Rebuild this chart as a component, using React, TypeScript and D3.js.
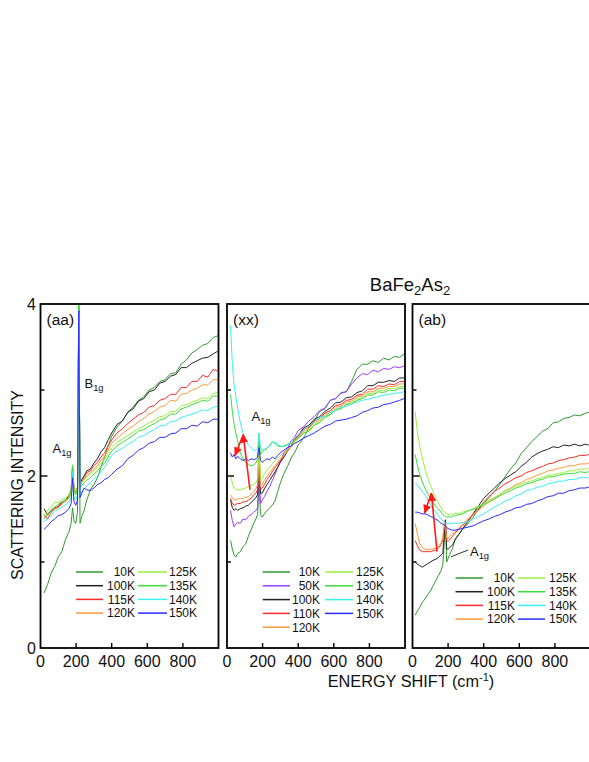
import React from "react";
import * as d3 from "d3";

// ---------- data: panel (aa) ----------
const X_AA = [20,40,60,80,100,120,140,160,172,180,188,198,208,215,222,232,245,260,280,300,320,340,360,380,400,430,460,490,520,550,580,610,640,670,700,730,760,790,820,850,880,910,940,970,995];
const AA_10K = [0.64,0.74,0.87,0.95,1.06,1.12,1.26,1.35,1.45,1.63,1.48,1.45,1.58,4.1,1.45,1.53,1.6,1.72,1.84,1.9,1.98,2.1,2.22,2.35,2.46,2.57,2.64,2.74,2.8,2.88,2.92,3.0,3.03,3.1,3.12,3.19,3.2,3.3,3.35,3.43,3.47,3.52,3.54,3.61,3.63];
const AA_100K = [1.62,1.55,1.6,1.63,1.64,1.7,1.71,1.78,1.84,2.1,1.86,1.82,1.87,3.95,1.9,1.96,2.0,2.06,2.08,2.15,2.2,2.28,2.33,2.42,2.5,2.6,2.64,2.74,2.78,2.87,2.9,2.98,3.0,3.08,3.1,3.16,3.18,3.26,3.26,3.31,3.34,3.37,3.38,3.42,3.45];
const AA_115K = [1.55,1.5,1.58,1.62,1.65,1.68,1.72,1.75,1.82,2.1,1.85,1.8,1.86,3.9,1.88,1.94,1.98,2.04,2.06,2.12,2.16,2.22,2.27,2.35,2.42,2.5,2.55,2.61,2.66,2.71,2.74,2.8,2.82,2.88,2.9,2.95,2.95,3.03,3.03,3.1,3.1,3.17,3.15,3.24,3.22];
const AA_120K = [1.52,1.54,1.57,1.62,1.63,1.67,1.71,1.74,1.8,2.08,1.84,1.8,1.85,3.9,1.86,1.92,1.96,2.0,2.04,2.08,2.12,2.18,2.23,2.3,2.38,2.44,2.49,2.54,2.58,2.63,2.67,2.72,2.75,2.8,2.82,2.88,2.87,2.95,2.96,3.0,3.02,3.06,3.06,3.12,3.12];
const AA_125K = [1.55,1.6,1.64,1.7,1.69,1.73,1.74,1.78,1.84,2.12,1.85,1.82,1.86,3.95,1.88,1.93,1.96,1.99,2.02,2.06,2.1,2.15,2.19,2.26,2.33,2.39,2.43,2.47,2.51,2.55,2.58,2.62,2.65,2.69,2.7,2.75,2.75,2.82,2.83,2.86,2.88,2.91,2.9,2.96,2.97];
const AA_135K = [1.5,1.56,1.6,1.64,1.67,1.7,1.72,1.76,1.82,2.13,1.8,1.78,1.84,4.2,1.85,1.89,1.92,1.95,1.98,2.02,2.06,2.11,2.15,2.22,2.29,2.35,2.39,2.43,2.47,2.52,2.54,2.58,2.61,2.65,2.67,2.72,2.72,2.78,2.8,2.83,2.85,2.88,2.87,2.93,2.93];
const AA_140K = [1.47,1.5,1.54,1.6,1.61,1.64,1.66,1.7,1.75,2.05,1.75,1.72,1.78,3.9,1.78,1.82,1.85,1.88,1.92,1.96,2.0,2.05,2.1,2.17,2.24,2.29,2.32,2.37,2.4,2.45,2.47,2.51,2.54,2.58,2.59,2.63,2.64,2.68,2.7,2.72,2.74,2.77,2.76,2.8,2.81];
const AA_150K = [1.38,1.42,1.47,1.5,1.54,1.55,1.58,1.62,1.68,1.98,1.7,1.66,1.72,3.92,1.75,1.8,1.86,1.84,1.83,1.86,1.9,1.92,1.96,1.98,2.02,2.08,2.12,2.2,2.24,2.3,2.33,2.38,2.4,2.45,2.45,2.49,2.5,2.55,2.55,2.59,2.58,2.63,2.62,2.66,2.66];

// ---------- data: panel (xx) ----------
const X_XX = [20,30,40,50,60,75,90,105,120,135,150,162,172,180,188,198,210,225,240,255,270,285,300,320,340,360,380,400,430,460,490,520,550,580,610,640,670,700,730,760,790,820,850,880,910,940,970,995];
const XX_10K = [1.25,1.15,1.08,1.06,1.1,1.12,1.18,1.21,1.3,1.37,1.45,1.5,1.55,1.95,1.55,1.52,1.56,1.6,1.63,1.66,1.71,1.82,1.92,2.03,2.11,2.21,2.27,2.36,2.44,2.56,2.64,2.75,2.78,2.88,2.9,2.97,2.98,3.1,3.24,3.3,3.3,3.34,3.32,3.37,3.35,3.39,3.38,3.42];
const XX_50K = [1.6,1.48,1.41,1.44,1.46,1.45,1.5,1.49,1.53,1.55,1.58,1.6,1.63,2.1,1.68,1.72,1.76,1.82,1.88,1.95,2.02,2.1,2.17,2.27,2.32,2.41,2.45,2.53,2.57,2.64,2.69,2.76,2.79,2.88,2.9,2.96,2.98,3.07,3.14,3.19,3.18,3.23,3.21,3.25,3.24,3.27,3.26,3.28];
const XX_100K = [1.72,1.63,1.6,1.62,1.6,1.62,1.63,1.65,1.66,1.69,1.72,1.75,1.78,2.3,1.8,1.8,1.85,1.9,1.95,2.0,2.05,2.1,2.16,2.22,2.29,2.34,2.43,2.47,2.56,2.59,2.66,2.69,2.75,2.79,2.85,2.86,2.91,2.92,2.97,2.99,3.05,3.05,3.09,3.09,3.11,3.1,3.14,3.14];
const XX_110K = [1.74,1.68,1.66,1.67,1.68,1.68,1.7,1.7,1.72,1.74,1.78,1.8,1.84,2.3,1.84,1.86,1.9,1.96,2.0,2.05,2.1,2.14,2.18,2.24,2.3,2.35,2.43,2.46,2.54,2.57,2.64,2.67,2.73,2.76,2.82,2.83,2.88,2.89,2.94,2.95,3.01,3.01,3.05,3.04,3.07,3.06,3.1,3.1];
const XX_120K = [1.78,1.75,1.72,1.72,1.73,1.74,1.74,1.75,1.76,1.78,1.82,1.85,1.9,2.3,1.88,1.9,1.95,2.0,2.04,2.08,2.12,2.16,2.2,2.24,2.29,2.34,2.41,2.44,2.52,2.55,2.62,2.65,2.71,2.74,2.8,2.81,2.86,2.87,2.92,2.93,2.98,2.98,3.02,3.02,3.04,3.04,3.07,3.07];
const XX_125K = [2.0,1.92,1.86,1.84,1.84,1.84,1.85,1.86,1.88,1.89,1.9,1.92,1.96,2.5,1.95,1.97,2.02,2.07,2.1,2.14,2.18,2.2,2.24,2.28,2.31,2.35,2.4,2.43,2.5,2.53,2.6,2.63,2.69,2.72,2.78,2.79,2.84,2.85,2.9,2.91,2.96,2.96,3.0,2.99,3.02,3.01,3.04,3.04];
const XX_130K = [2.95,2.75,2.6,2.5,2.4,2.27,2.2,2.16,2.13,2.12,2.13,2.15,2.2,2.45,2.25,2.28,2.3,2.32,2.36,2.4,2.38,2.35,2.34,2.35,2.37,2.38,2.42,2.44,2.5,2.52,2.59,2.62,2.68,2.71,2.77,2.78,2.83,2.84,2.88,2.9,2.94,2.94,2.98,2.97,3.0,2.99,3.02,3.02];
const XX_140K = [3.75,3.3,3.05,2.92,2.78,2.62,2.5,2.42,2.36,2.33,2.3,2.3,2.32,2.5,2.33,2.3,2.31,2.33,2.35,2.38,2.4,2.36,2.35,2.34,2.36,2.4,2.44,2.48,2.53,2.58,2.63,2.68,2.69,2.74,2.76,2.8,2.81,2.84,2.86,2.88,2.89,2.91,2.92,2.94,2.95,2.96,2.97,2.98];
const XX_150K = [2.27,2.22,2.25,2.2,2.23,2.2,2.18,2.2,2.18,2.2,2.19,2.2,2.22,2.33,2.18,2.16,2.18,2.2,2.19,2.22,2.2,2.24,2.27,2.3,2.33,2.35,2.38,2.4,2.44,2.47,2.5,2.54,2.58,2.6,2.64,2.65,2.66,2.68,2.7,2.74,2.76,2.79,2.8,2.83,2.84,2.86,2.88,2.9];

// ---------- data: panel (ab) ----------
const X_AB = [15,25,40,55,70,85,100,115,130,145,160,170,178,185,192,200,210,225,240,260,280,300,320,340,360,380,400,430,460,490,520,550,580,610,640,670,700,730,760,790,820,850,880,910,940,970,990];
const AB_10K = [0.38,0.42,0.47,0.53,0.57,0.62,0.66,0.72,0.78,0.84,0.9,0.96,1.2,1.49,1.0,1.04,1.09,1.16,1.27,1.32,1.38,1.42,1.47,1.52,1.58,1.63,1.68,1.75,1.82,1.9,1.99,2.08,2.15,2.26,2.33,2.4,2.46,2.52,2.55,2.62,2.63,2.67,2.68,2.71,2.7,2.73,2.74];
const AB_100K = [1.0,0.98,0.96,0.94,0.96,0.98,1.0,1.02,1.03,1.05,1.08,1.1,1.3,1.49,1.15,1.15,1.17,1.2,1.26,1.32,1.38,1.44,1.5,1.56,1.62,1.68,1.74,1.8,1.86,1.92,1.97,2.01,2.05,2.11,2.16,2.22,2.26,2.29,2.31,2.34,2.33,2.36,2.35,2.37,2.35,2.37,2.36];
const AB_115K = [1.25,1.2,1.14,1.12,1.12,1.12,1.12,1.13,1.14,1.16,1.2,1.25,1.4,1.45,1.25,1.24,1.26,1.3,1.34,1.38,1.42,1.46,1.5,1.55,1.6,1.64,1.7,1.76,1.82,1.86,1.91,1.94,1.98,2.0,2.04,2.06,2.09,2.11,2.14,2.15,2.18,2.19,2.21,2.22,2.24,2.24,2.25];
const AB_120K = [1.45,1.35,1.22,1.17,1.15,1.14,1.15,1.15,1.16,1.18,1.22,1.28,1.45,1.38,1.28,1.27,1.3,1.33,1.36,1.4,1.44,1.48,1.52,1.55,1.58,1.62,1.65,1.7,1.74,1.78,1.83,1.86,1.9,1.92,1.96,1.98,2.01,2.03,2.06,2.07,2.09,2.1,2.12,2.12,2.14,2.14,2.15];
const AB_125K = [2.75,2.55,2.35,2.22,2.08,1.98,1.9,1.82,1.75,1.69,1.63,1.6,1.58,1.57,1.56,1.55,1.56,1.55,1.57,1.56,1.58,1.59,1.6,1.62,1.64,1.66,1.68,1.72,1.75,1.79,1.82,1.85,1.88,1.9,1.93,1.94,1.97,1.98,2.01,2.01,2.03,2.04,2.06,2.06,2.08,2.08,2.09];
const AB_135K = [2.25,2.15,2.02,1.93,1.86,1.8,1.74,1.7,1.65,1.62,1.58,1.55,1.54,1.53,1.52,1.53,1.52,1.53,1.54,1.55,1.56,1.58,1.6,1.61,1.63,1.65,1.67,1.7,1.73,1.77,1.8,1.83,1.86,1.88,1.91,1.92,1.95,1.96,1.99,1.99,2.01,2.02,2.03,2.03,2.05,2.04,2.05];
const AB_140K = [1.92,1.9,1.86,1.82,1.78,1.72,1.67,1.62,1.58,1.54,1.5,1.48,1.47,1.46,1.45,1.45,1.44,1.45,1.45,1.45,1.46,1.46,1.48,1.5,1.52,1.54,1.56,1.6,1.64,1.67,1.71,1.73,1.77,1.79,1.83,1.84,1.87,1.88,1.91,1.92,1.94,1.94,1.96,1.96,1.98,1.98,1.98];
const AB_150K = [1.58,1.58,1.57,1.56,1.56,1.55,1.53,1.52,1.5,1.48,1.45,1.44,1.43,1.42,1.4,1.39,1.38,1.37,1.37,1.38,1.39,1.4,1.41,1.42,1.44,1.46,1.48,1.5,1.53,1.55,1.58,1.6,1.63,1.64,1.67,1.68,1.71,1.73,1.76,1.77,1.8,1.8,1.83,1.84,1.86,1.86,1.87];

// ---------- annotations (data coordinates) ----------
const ARROWS_XX = [[129, 1.84, 91, 2.48], [91, 2.48, 45, 2.24]];
const ARROWS_AB = [[138, 1.12, 106, 1.8], [106, 1.8, 68, 1.57]];
const X_TICKS = [0, 200, 400, 600, 800];
const Y_TICKS = [0, 2, 4];

// ---------- colours ----------
const C10 = "#2f9a2f";
const C50 = "#9a3cff";
const C100 = "#222222";
const CRED = "#ff2a2a";
const CORANGE = "#ff9a3c";
const CLIME = "#9cee3c";
const CGREEN = "#3cdc3c";
const CCYAN = "#3ceeee";
const CBLUE = "#2a2aff";

const AA_SERIES = [
  { name: "10K", color: C10, xs: X_AA, ys: AA_10K },
  { name: "100K", color: C100, xs: X_AA, ys: AA_100K },
  { name: "115K", color: CRED, xs: X_AA, ys: AA_115K },
  { name: "120K", color: CORANGE, xs: X_AA, ys: AA_120K },
  { name: "125K", color: CLIME, xs: X_AA, ys: AA_125K },
  { name: "135K", color: CGREEN, xs: X_AA, ys: AA_135K },
  { name: "140K", color: CCYAN, xs: X_AA, ys: AA_140K },
  { name: "150K", color: CBLUE, xs: X_AA, ys: AA_150K },
];
const XX_SERIES = [
  { name: "10K", color: C10, xs: X_XX, ys: XX_10K },
  { name: "50K", color: C50, xs: X_XX, ys: XX_50K },
  { name: "100K", color: C100, xs: X_XX, ys: XX_100K },
  { name: "110K", color: CRED, xs: X_XX, ys: XX_110K },
  { name: "120K", color: CORANGE, xs: X_XX, ys: XX_120K },
  { name: "125K", color: CLIME, xs: X_XX, ys: XX_125K },
  { name: "130K", color: CGREEN, xs: X_XX, ys: XX_130K },
  { name: "140K", color: CCYAN, xs: X_XX, ys: XX_140K },
  { name: "150K", color: CBLUE, xs: X_XX, ys: XX_150K },
];
const AB_SERIES = [
  { name: "10K", color: C10, xs: X_AB, ys: AB_10K },
  { name: "100K", color: C100, xs: X_AB, ys: AB_100K },
  { name: "115K", color: CRED, xs: X_AB, ys: AB_115K },
  { name: "120K", color: CORANGE, xs: X_AB, ys: AB_120K },
  { name: "125K", color: CLIME, xs: X_AB, ys: AB_125K },
  { name: "135K", color: CGREEN, xs: X_AB, ys: AB_135K },
  { name: "140K", color: CCYAN, xs: X_AB, ys: AB_140K },
  { name: "150K", color: CBLUE, xs: X_AB, ys: AB_150K },
];

const FONT = "'Liberation Sans', Arial, Helvetica, sans-serif";
const TOP = 304;
const BOTTOM = 648;
const PW = 178;

const PANELS = [
  {
    key: "aa", tag: "(aa)", left: 40.5, series: AA_SERIES, arrows: [],
    legend: { l1: [35.5, 62.5], t1: 94.5, l2: [97.5, 126.5], t2: 156.5, y0: 572, dy: 13.7 },
  },
  {
    key: "xx", tag: "(xx)", left: 227, series: XX_SERIES, arrows: ARROWS_XX,
    legend: { l1: [35.7, 63], t1: 93, l2: [98, 126], t2: 157, y0: 572, dy: 13.8 },
  },
  {
    key: "ab", tag: "(ab)", left: 412.5, series: AB_SERIES, arrows: ARROWS_AB,
    legend: { l1: [43, 70.5], t1: 102.5, l2: [105.5, 132.5], t2: 164.5, y0: 578, dy: 13.7 },
  },
];

function Sub({ x, y, main, sub, size = 13 }: { x: number; y: number; main: string; sub: string; size?: number }) {
  return (
    <text x={x} y={y} fontFamily={FONT} fontSize={size} fill="#111">
      {main}
      <tspan fontSize={size * 0.72} dy={3}>{sub}</tspan>
    </text>
  );
}

function Panel({ p }: { p: any }) {
  const x = d3.scaleLinear().domain([0, 1000]).range([p.left, p.left + PW]);
  const y = d3.scaleLinear().domain([0, 4]).range([BOTTOM, TOP]);
  const line = d3
    .line<[number, number]>()
    .x((d) => x(d[0]))
    .y((d) => y(d[1]));
  const clipId = `clip-${p.key}`;
  const n = p.series.length;
  const half = Math.ceil(n / 2);
  const lg = p.legend;
  return (
    <g>
      <defs>
        <clipPath id={clipId}>
          <rect x={p.left} y={TOP} width={PW} height={BOTTOM - TOP} />
        </clipPath>
      </defs>
      <g clipPath={`url(#${clipId})`}>
        {p.series.map((s: any) => {
          const pts: [number, number][] = d3.zip(s.xs, s.ys) as any;
          return (
            <path key={s.name} d={line(pts) || ""} fill="none" stroke={s.color} strokeWidth={1} strokeLinejoin="round" />
          );
        })}
        {p.arrows.map((a: number[], i: number) => (
          <line
            key={i}
            x1={x(a[0])}
            y1={y(a[1])}
            x2={x(a[2])}
            y2={y(a[3])}
            stroke="#ff1a1a"
            strokeWidth={1.6}
            markerEnd="url(#arrowhead)"
          />
        ))}
      </g>
      <rect x={p.left} y={TOP} width={PW} height={BOTTOM - TOP} fill="none" stroke="#000" strokeWidth={1.8} />
      {[1, 2, 3].map((v) => (
        <line key={v} x1={p.left} x2={p.left + (v === 2 ? 7 : 4)} y1={y(v)} y2={y(v)} stroke="#000" strokeWidth={1.4} />
      ))}
      {X_TICKS.filter((v) => v > 0).map((v) => (
        <line key={v} x1={x(v)} x2={x(v)} y1={BOTTOM} y2={BOTTOM - 5} stroke="#000" strokeWidth={1.4} />
      ))}
      {X_TICKS.map((v) => (
        <text key={v} x={x(v)} y={667} textAnchor="middle" fontFamily={FONT} fontSize={16} fill="#111">
          {v}
        </text>
      ))}
      <text x={p.left + 6} y={325} fontFamily={FONT} fontSize={15.5} fill="#111">
        {p.tag}
      </text>
      {p.series.map((s: any, i: number) => {
        const col = i < half ? 0 : 1;
        const row = col === 0 ? i : i - half;
        const ly = lg.y0 + row * lg.dy;
        const l = col === 0 ? lg.l1 : lg.l2;
        const te = col === 0 ? lg.t1 : lg.t2;
        return (
          <g key={s.name}>
            <line x1={p.left + l[0]} x2={p.left + l[1]} y1={ly} y2={ly} stroke={s.color} strokeWidth={1.5} />
            <text x={p.left + te} y={ly + 4.3} textAnchor="end" fontFamily={FONT} fontSize={12} fill="#111">
              {s.name}
            </text>
          </g>
        );
      })}
    </g>
  );
}

export default function App() {
  const yAA = d3.scaleLinear().domain([0, 4]).range([BOTTOM, TOP]);
  const xAB = d3.scaleLinear().domain([0, 1000]).range([412.5, 412.5 + PW]);
  const yAB = yAA;
  return (
    <svg
      width={589}
      height={762}
      style={{ position: "absolute", left: 0, top: 0, background: "#fff" }}
      xmlns="http://www.w3.org/2000/svg"
    >
      <defs>
        <marker id="arrowhead" markerUnits="userSpaceOnUse" markerWidth={9} markerHeight={8} refX={8} refY={4} orient="auto">
          <path d="M0,0 L9,4 L0,8 Z" fill="#ff1a1a" />
        </marker>
      </defs>
      <rect x={0} y={0} width={589} height={762} fill="#fff" />
      {PANELS.map((p) => (
        <Panel key={p.key} p={p} />
      ))}
      {Y_TICKS.map((v) => (
        <text key={v} x={36} y={yAA(v) + 6} textAnchor="end" fontFamily={FONT} fontSize={16} fill="#111">
          {v}
        </text>
      ))}
      <Sub x={52.5} y={453} main="A" sub="1g" />
      <Sub x={84.5} y={388} main="B" sub="1g" />
      <Sub x={251.5} y={421} main="A" sub="1g" />
      <Sub x={470} y={556} main="A" sub="1g" />
      <line x1={xAB(313)} y1={yAB(1.14)} x2={xAB(216)} y2={yAB(1.06)} stroke="#333" strokeWidth={1} />
      <text x={410} y={291} textAnchor="middle" fontFamily={FONT} fontSize={18.5} fill="#111">
        BaFe<tspan fontSize={13} dy={4}>2</tspan>
        <tspan dy={-4}>As</tspan>
        <tspan fontSize={13} dy={4}>2</tspan>
      </text>
      <text x={411} y={687} textAnchor="middle" fontFamily={FONT} fontSize={16.3} fill="#111">
        ENERGY SHIFT (cm<tspan fontSize={11} dy={-6}>-1</tspan>
        <tspan dy={6}>)</tspan>
      </text>
      <text
        transform="translate(23,485) rotate(-90)"
        textAnchor="middle"
        fontFamily={FONT}
        fontSize={16}
        fill="#111"
      >
        SCATTERING INTENSITY
      </text>
    </svg>
  );
}
